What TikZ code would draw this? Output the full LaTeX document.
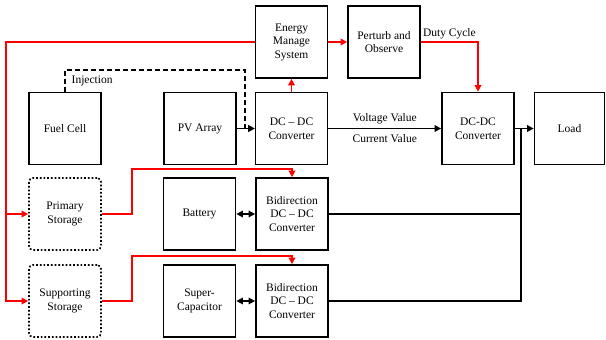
\documentclass[tikz,border=0pt]{standalone}
\usepackage{fontspec}
\setmainfont{Liberation Serif}
\usetikzlibrary{arrows.meta,positioning,calc}

\begin{document}
\begin{tikzpicture}[
    x=1pt, y=-1pt,
    block/.style={draw, line width=1.7pt, minimum width=72pt, minimum height=72pt, align=center, inner sep=1pt, font=\fontsize{11.5}{13.5}\selectfont},
    storage/.style={block, dotted, rounded corners=4pt},
    link/.style={line width=1.4pt, -{Triangle[length=6.5pt,width=6.5pt]}},
    bus/.style={line width=1.4pt},
    ctrl/.style={draw=red, line width=1.6pt, -{Triangle[length=6.5pt,width=6.5pt]}},
    lbl/.style={font=\fontsize{11.5}{13.5}\selectfont, inner sep=2pt}
  ]
  \useasboundingbox (0,0) rectangle (606,340);

  % Top row
  \node[block] (ems) at (291.5,42) {Energy\\Manage\\System};
  \node[block] (po) at (384,42) {Perturb and\\Observe};

  % Source row
  \node[block] (fuel) at (65,128.5) {Fuel Cell};
  \node[block] (pv) at (200,128.5) {PV Array};
  \node[block] (dcdc) at (291.5,128.5) {DC -- DC\\Converter};
  \node[block] (conv) at (478,128.5) {DC-DC\\Converter};
  \node[block, minimum width=70pt] (load) at (569.5,128.5) {Load};

  % Storage rows
  \node[storage] (prim) at (65,214) {Primary\\Storage};
  \node[storage] (supp) at (65,301) {Supporting\\Storage};
  \node[block] (batt) at (199.5,214) {Battery};
  \node[block] (cap) at (199.5,301) {Super-\\Capacitor};
  \node[block] (bid1) at (292,214) {Bidirection\\DC -- DC\\Converter};
  \node[block] (bid2) at (292,301) {Bidirection\\DC -- DC\\Converter};

  % Corner points
  \coordinate (lft) at (6,42);
  \coordinate (inj) at (245,70);
  \coordinate (k1) at (132,169);
  \coordinate (k2) at (132,256);
  \coordinate (dc) at (521,128.5);

  % Power flow
  \draw[link, dash pattern=on 5pt off 3pt] (fuel.north) |- node[pos=0.5, below right, lbl, xshift=4pt, yshift=-3pt] {Injection} (inj) |- (dcdc.west);
  \draw[link] (pv.east) -- (dcdc.west);
  \draw[link] (dcdc.east) -- node[above=2pt, lbl] {Voltage Value} node[below=3pt, lbl] {Current Value} (conv.west);
  \draw[link] (conv.east) -- (load.west);
  \draw[link, {Triangle[length=6.5pt,width=6.5pt]}-{Triangle[length=6.5pt,width=6.5pt]}] (batt.east) -- (bid1.west);
  \draw[link, {Triangle[length=6.5pt,width=6.5pt]}-{Triangle[length=6.5pt,width=6.5pt]}] (cap.east) -- (bid2.west);
  \draw[bus] (bid2.east) -| (dc);
  \draw[bus] (bid1.east) -- (bid1.east -| dc);

  % Control signals
  \draw[ctrl] (dcdc.north) -- (ems.south);
  \draw[ctrl] (ems.east) -- (po.west);
  \draw[ctrl] (po.east) -| node[pos=0.25, above, lbl] {Duty Cycle} (conv.north);
  \draw[ctrl] (ems.west) -- (lft) |- (supp.west);
  \draw[ctrl] (lft |- prim.west) -- (prim.west);
  \draw[ctrl] (prim.east) -| (k1) -| (bid1.north);
  \draw[ctrl] (supp.east) -| (k2) -| (bid2.north);
\end{tikzpicture}
\end{document}
